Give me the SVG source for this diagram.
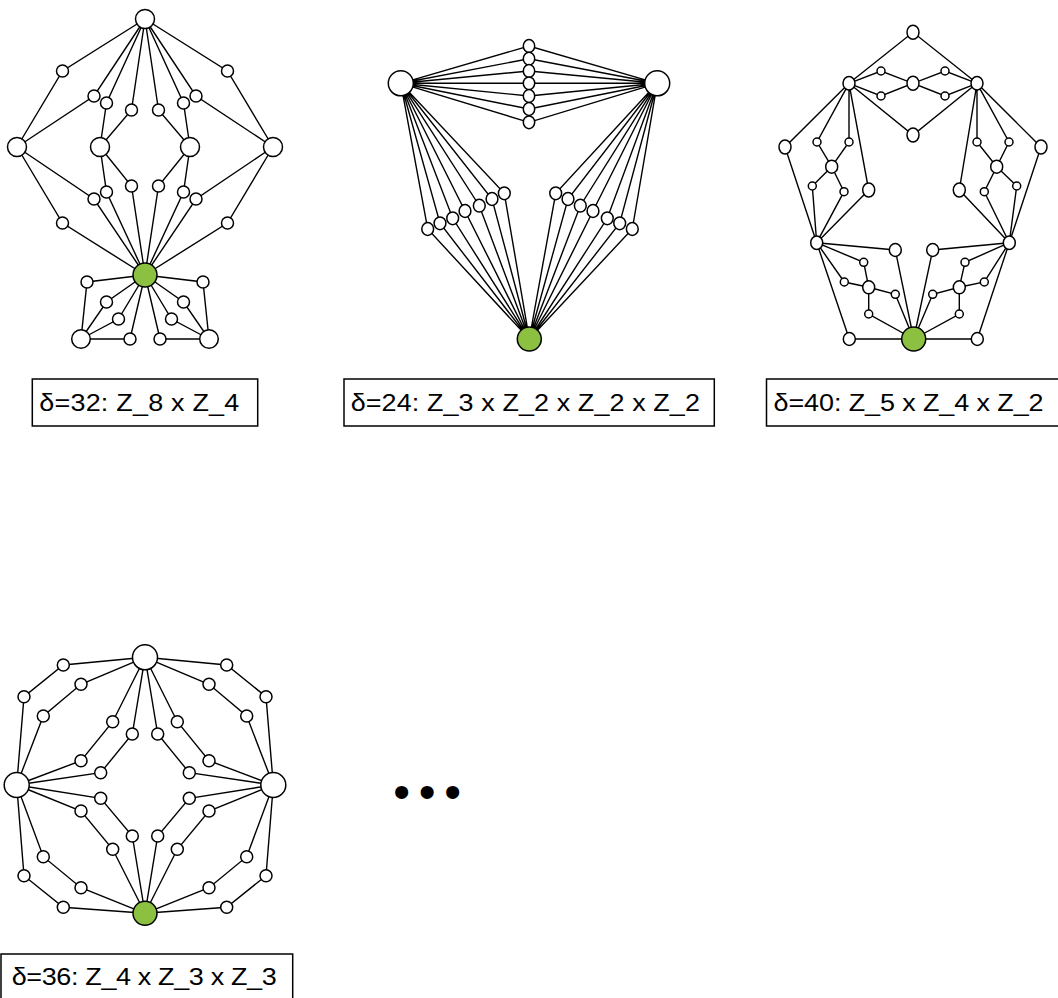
<svg xmlns="http://www.w3.org/2000/svg" width="1058" height="998" viewBox="0 0 1058 998">
<style>
.e{stroke:#000;stroke-width:1.4;fill:none}
.n{fill:#fff;stroke:#000;stroke-width:1.5}
.g{fill:#8cc040;stroke:#000;stroke-width:1.5}
.box{fill:#fff;stroke:#000;stroke-width:1.5}
.lbl{font-family:"Liberation Sans",Arial,sans-serif;font-size:24.5px;fill:#000}
</style>
<rect width="1058" height="998" fill="#fff"/>
<g id="connectors" class="e">
<path d="M145 19L62.5 71L17 147M145 19L94 96L17 147M145 19L106.5 103L100 147M145 19L131.5 110L100 147M145 19L158.5 110L190 147M145 19L183.5 103L190 147M145 19L196 96L273 147M145 19L227.5 71L273 147"/>
<path d="M145 275L62.5 223L17 147M145 275L94 199L17 147M145 275L106.5 192L100 147M145 275L131.5 186L100 147M145 275L158.5 186L190 147M145 275L183.5 192L190 147M145 275L196 199L273 147M145 275L227.5 223L273 147"/>
<path d="M145 275L87 282L81 339M145 275L106.5 302L81 339M145 275L118.5 319L81 339M145 275L130 339L81 339M145 275L160 339L209 339M145 275L171.5 319L209 339M145 275L183.5 302L209 339M145 275L203 282L209 339"/>
<path d="M400.8 83.3L529 46L657.2 83.3M400.8 83.3L529 58.7L657.2 83.3M400.8 83.3L529 71L657.2 83.3M400.8 83.3L529 83.3L657.2 83.3M400.8 83.3L529 96L657.2 83.3M400.8 83.3L529 109L657.2 83.3M400.8 83.3L529 122.3L657.2 83.3"/>
<path d="M400.8 83.3L427.7 229L529.3 339M400.8 83.3L440 223.3L529.3 339M400.8 83.3L452.7 218.3L529.3 339M400.8 83.3L465 211L529.3 339M400.8 83.3L479.3 205.7L529.3 339M400.8 83.3L492 199L529.3 339M400.8 83.3L504.3 193.3L529.3 339"/>
<path d="M657.2 83.3L632.3 229L529.3 339M657.2 83.3L619.7 223.3L529.3 339M657.2 83.3L607.3 218.3L529.3 339M657.2 83.3L593 211L529.3 339M657.2 83.3L580.3 205.7L529.3 339M657.2 83.3L568 199L529.3 339M657.2 83.3L555.7 193.3L529.3 339"/>
<path d="M849 83.3L913 32.3L977 83.3M849 83.3L881 71L913 83.3L945 71L977 83.3M849 83.3L881 96L913 83.3L945 96L977 83.3M849 83.3L913 135L977 83.3"/>
<path d="M849 83.3L785 147L816.7 242.7M849 83.3L817 142L831.7 166.7M849 83.3L849 142L831.7 166.7M831.7 166.7L812.3 186L816.7 242.7M831.7 166.7L844 191.7L816.7 242.7M849 83.3L868.7 190L816.7 242.7"/>
<path d="M977 83.3L1041 147L1009.3 242.7M977 83.3L1009 142L996.7 166.7M977 83.3L977 142L996.7 166.7M996.7 166.7L1016.7 186L1009.3 242.7M996.7 166.7L984.3 191.7L1009.3 242.7M977 83.3L959.3 190L1009.3 242.7"/>
<path d="M816.7 242.7L895.3 250L913.7 339M816.7 242.7L863.7 262.3L868.7 287.3M816.7 242.7L844.3 282L868.7 287.3M868.7 287.3L895.3 294.3L913.7 339M868.7 287.3L868.7 314L913.7 339M816.7 242.7L849.3 339L913.7 339"/>
<path d="M1009.3 242.7L932.7 250L913.7 339M1009.3 242.7L965 262.3L959.3 287.3M1009.3 242.7L984.3 282L959.3 287.3M959.3 287.3L932.7 294.3L913.7 339M959.3 287.3L959.3 314L913.7 339M1009.3 242.7L977.3 339L913.7 339"/>
<path d="M145 657.3L63.3 665L24 696.7L16.7 785M145 657.3L81 684.3L43.3 716L16.7 785M145 657.3L112.7 721.7L81 760.7L16.7 785M145 657.3L132.3 734L100.7 772.7L16.7 785"/>
<path d="M145 657.3L226.7 665L266 696.7L273.3 785M145 657.3L209 684.3L246.7 716L273.3 785M145 657.3L177.3 721.7L209 760.7L273.3 785M145 657.3L157.7 734L189.3 772.7L273.3 785"/>
<path d="M145 913.3L63.3 907.3L24 875.7L16.7 785M145 913.3L81 887.7L43.3 856.7L16.7 785M145 913.3L112.7 849.3L81 811L16.7 785M145 913.3L132.3 836L100.7 798.3L16.7 785"/>
<path d="M145 913.3L226.7 907.3L266 875.7L273.3 785M145 913.3L209 887.7L246.7 856.7L273.3 785M145 913.3L177.3 849.3L209 811L273.3 785M145 913.3L157.7 836L189.3 798.3L273.3 785"/>
</g>
<g id="graph1">
<g id="g1-top"><circle class="n" cx="145" cy="19" r="9.5"/></g>
<g id="g1-l1"><circle class="n" cx="17" cy="147" r="9.5"/></g>
<g id="g1-l2"><circle class="n" cx="100" cy="147" r="9.5"/></g>
<g id="g1-r2"><circle class="n" cx="190" cy="147" r="9.5"/></g>
<g id="g1-r1"><circle class="n" cx="273" cy="147" r="9.5"/></g>
<g id="g1-u1"><circle class="n" cx="62.5" cy="71" r="6"/></g>
<g id="g1-u2"><circle class="n" cx="94" cy="96" r="6"/></g>
<g id="g1-u3"><circle class="n" cx="106.5" cy="103" r="6"/></g>
<g id="g1-u4"><circle class="n" cx="131.5" cy="110" r="6"/></g>
<g id="g1-u5"><circle class="n" cx="158.5" cy="110" r="6"/></g>
<g id="g1-u6"><circle class="n" cx="183.5" cy="103" r="6"/></g>
<g id="g1-u7"><circle class="n" cx="196" cy="96" r="6"/></g>
<g id="g1-u8"><circle class="n" cx="227.5" cy="71" r="6"/></g>
<g id="g1-d1"><circle class="n" cx="62.5" cy="223" r="6"/></g>
<g id="g1-d2"><circle class="n" cx="94" cy="199" r="6"/></g>
<g id="g1-d3"><circle class="n" cx="106.5" cy="192" r="6"/></g>
<g id="g1-d4"><circle class="n" cx="131.5" cy="186" r="6"/></g>
<g id="g1-d5"><circle class="n" cx="158.5" cy="186" r="6"/></g>
<g id="g1-d6"><circle class="n" cx="183.5" cy="192" r="6"/></g>
<g id="g1-d7"><circle class="n" cx="196" cy="199" r="6"/></g>
<g id="g1-d8"><circle class="n" cx="227.5" cy="223" r="6"/></g>
<g id="g1-green"><circle class="g" cx="145" cy="275" r="12"/></g>
<g id="g1-b1"><circle class="n" cx="87" cy="282" r="6"/></g>
<g id="g1-b2"><circle class="n" cx="106.5" cy="302" r="6"/></g>
<g id="g1-b3"><circle class="n" cx="118.5" cy="319" r="6"/></g>
<g id="g1-b4"><circle class="n" cx="130" cy="339" r="6"/></g>
<g id="g1-b5"><circle class="n" cx="160" cy="339" r="6"/></g>
<g id="g1-b6"><circle class="n" cx="171.5" cy="319" r="6"/></g>
<g id="g1-b7"><circle class="n" cx="183.5" cy="302" r="6"/></g>
<g id="g1-b8"><circle class="n" cx="203" cy="282" r="6"/></g>
<g id="g1-bl"><circle class="n" cx="81" cy="339" r="9.3"/></g>
<g id="g1-br"><circle class="n" cx="209" cy="339" r="9.3"/></g>
</g>
<g id="graph2">
<g id="g2-left"><circle class="n" cx="400.8" cy="83.3" r="12.5"/></g>
<g id="g2-right"><circle class="n" cx="657.2" cy="83.3" r="12.5"/></g>
<g id="g2-m1"><ellipse class="n" cx="529" cy="46" rx="5.7" ry="6.4"/></g>
<g id="g2-m2"><ellipse class="n" cx="529" cy="58.7" rx="5.7" ry="6.4"/></g>
<g id="g2-m3"><ellipse class="n" cx="529" cy="71" rx="5.7" ry="6.4"/></g>
<g id="g2-m4"><ellipse class="n" cx="529" cy="83.3" rx="5.7" ry="6.4"/></g>
<g id="g2-m5"><ellipse class="n" cx="529" cy="96" rx="5.7" ry="6.4"/></g>
<g id="g2-m6"><ellipse class="n" cx="529" cy="109" rx="5.7" ry="6.4"/></g>
<g id="g2-m7"><ellipse class="n" cx="529" cy="122.3" rx="5.7" ry="6.4"/></g>
<g id="g2-l1"><ellipse class="n" cx="427.7" cy="229" rx="5.9" ry="6.4"/></g>
<g id="g2-l2"><ellipse class="n" cx="440" cy="223.3" rx="5.9" ry="6.4"/></g>
<g id="g2-l3"><ellipse class="n" cx="452.7" cy="218.3" rx="5.9" ry="6.4"/></g>
<g id="g2-l4"><ellipse class="n" cx="465" cy="211" rx="5.9" ry="6.4"/></g>
<g id="g2-l5"><ellipse class="n" cx="479.3" cy="205.7" rx="5.9" ry="6.4"/></g>
<g id="g2-l6"><ellipse class="n" cx="492" cy="199" rx="5.9" ry="6.4"/></g>
<g id="g2-l7"><ellipse class="n" cx="504.3" cy="193.3" rx="5.9" ry="6.4"/></g>
<g id="g2-r7"><ellipse class="n" cx="555.7" cy="193.3" rx="5.9" ry="6.4"/></g>
<g id="g2-r6"><ellipse class="n" cx="568" cy="199" rx="5.9" ry="6.4"/></g>
<g id="g2-r5"><ellipse class="n" cx="580.3" cy="205.7" rx="5.9" ry="6.4"/></g>
<g id="g2-r4"><ellipse class="n" cx="593" cy="211" rx="5.9" ry="6.4"/></g>
<g id="g2-r3"><ellipse class="n" cx="607.3" cy="218.3" rx="5.9" ry="6.4"/></g>
<g id="g2-r2"><ellipse class="n" cx="619.7" cy="223.3" rx="5.9" ry="6.4"/></g>
<g id="g2-r1"><ellipse class="n" cx="632.3" cy="229" rx="5.9" ry="6.4"/></g>
<g id="g2-green"><circle class="g" cx="529.3" cy="339" r="12"/></g>
</g>
<g id="graph3">
<g id="g3-top"><ellipse class="n" cx="913" cy="32.3" rx="6" ry="7"/></g>
<g id="g3-hl"><ellipse class="n" cx="849" cy="83.3" rx="6" ry="6.7"/></g>
<g id="g3-hr"><ellipse class="n" cx="977" cy="83.3" rx="6" ry="6.7"/></g>
<g id="g3-a1"><circle class="n" cx="881" cy="71" r="4"/></g>
<g id="g3-a2"><circle class="n" cx="881" cy="96" r="4"/></g>
<g id="g3-c"><ellipse class="n" cx="913" cy="83.3" rx="6" ry="7"/></g>
<g id="g3-a3"><circle class="n" cx="945" cy="71" r="4"/></g>
<g id="g3-a4"><circle class="n" cx="945" cy="96" r="4"/></g>
<g id="g3-b"><ellipse class="n" cx="913" cy="135" rx="6" ry="7"/></g>
<g id="g3-p1"><ellipse class="n" cx="785" cy="147" rx="6" ry="7"/></g>
<g id="g3-p2"><circle class="n" cx="817" cy="142" r="4"/></g>
<g id="g3-p3"><circle class="n" cx="849" cy="142" r="4"/></g>
<g id="g3-p4"><ellipse class="n" cx="831.7" cy="166.7" rx="6" ry="6.5"/></g>
<g id="g3-q1"><circle class="n" cx="812.3" cy="186" r="4"/></g>
<g id="g3-q2"><circle class="n" cx="844" cy="191.7" r="4"/></g>
<g id="g3-q3"><ellipse class="n" cx="868.7" cy="190" rx="6" ry="7"/></g>
<g id="g3-p1r"><ellipse class="n" cx="1041" cy="147" rx="6" ry="7"/></g>
<g id="g3-p2r"><circle class="n" cx="1009" cy="142" r="4"/></g>
<g id="g3-p3r"><circle class="n" cx="977" cy="142" r="4"/></g>
<g id="g3-p4r"><ellipse class="n" cx="996.7" cy="166.7" rx="6" ry="6.5"/></g>
<g id="g3-q1r"><circle class="n" cx="1016.7" cy="186" r="4"/></g>
<g id="g3-q2r"><circle class="n" cx="984.3" cy="191.7" r="4"/></g>
<g id="g3-q3r"><ellipse class="n" cx="959.3" cy="190" rx="6" ry="7"/></g>
<g id="g3-ll"><ellipse class="n" cx="816.7" cy="242.7" rx="6" ry="6.7"/></g>
<g id="g3-lr"><ellipse class="n" cx="1009.3" cy="242.7" rx="6" ry="6.7"/></g>
<g id="g3-s1"><ellipse class="n" cx="895.3" cy="250" rx="6" ry="6.5"/></g>
<g id="g3-s1r"><ellipse class="n" cx="932.7" cy="250" rx="6" ry="6.5"/></g>
<g id="g3-s2"><circle class="n" cx="863.7" cy="262.3" r="4"/></g>
<g id="g3-s2r"><circle class="n" cx="965" cy="262.3" r="4"/></g>
<g id="g3-s3"><circle class="n" cx="844.3" cy="282" r="4"/></g>
<g id="g3-s3r"><circle class="n" cx="984.3" cy="282" r="4"/></g>
<g id="g3-s4"><ellipse class="n" cx="868.7" cy="287.3" rx="6" ry="6.5"/></g>
<g id="g3-s4r"><ellipse class="n" cx="959.3" cy="287.3" rx="6" ry="6.5"/></g>
<g id="g3-s5"><circle class="n" cx="895.3" cy="294.3" r="4"/></g>
<g id="g3-s5r"><circle class="n" cx="932.7" cy="294.3" r="4"/></g>
<g id="g3-s6"><circle class="n" cx="868.7" cy="314" r="4"/></g>
<g id="g3-s6r"><circle class="n" cx="959.3" cy="314" r="4"/></g>
<g id="g3-s7"><ellipse class="n" cx="849.3" cy="339" rx="6" ry="6.5"/></g>
<g id="g3-s7r"><ellipse class="n" cx="977.3" cy="339" rx="6" ry="6.5"/></g>
<g id="g3-green"><circle class="g" cx="913.7" cy="339" r="12"/></g>
</g>
<g id="graph4">
<g id="g4-top"><circle class="n" cx="145" cy="657.3" r="12.5"/></g>
<g id="g4-left"><circle class="n" cx="16.7" cy="785" r="12.5"/></g>
<g id="g4-right"><circle class="n" cx="273.3" cy="785" r="12.5"/></g>
<g id="g4-green"><circle class="g" cx="145" cy="913.3" r="12"/></g>
<g id="g4-n1"><circle class="n" cx="63.3" cy="665" r="6"/></g>
<g id="g4-n2"><circle class="n" cx="24" cy="696.7" r="6"/></g>
<g id="g4-n3"><circle class="n" cx="81" cy="684.3" r="6"/></g>
<g id="g4-n4"><circle class="n" cx="43.3" cy="716" r="6"/></g>
<g id="g4-n5"><circle class="n" cx="112.7" cy="721.7" r="6"/></g>
<g id="g4-n6"><circle class="n" cx="81" cy="760.7" r="6"/></g>
<g id="g4-n7"><circle class="n" cx="132.3" cy="734" r="6"/></g>
<g id="g4-n8"><circle class="n" cx="100.7" cy="772.7" r="6"/></g>
<g id="g4-n9"><circle class="n" cx="226.7" cy="665" r="6"/></g>
<g id="g4-n10"><circle class="n" cx="266" cy="696.7" r="6"/></g>
<g id="g4-n11"><circle class="n" cx="209" cy="684.3" r="6"/></g>
<g id="g4-n12"><circle class="n" cx="246.7" cy="716" r="6"/></g>
<g id="g4-n13"><circle class="n" cx="177.3" cy="721.7" r="6"/></g>
<g id="g4-n14"><circle class="n" cx="209" cy="760.7" r="6"/></g>
<g id="g4-n15"><circle class="n" cx="157.7" cy="734" r="6"/></g>
<g id="g4-n16"><circle class="n" cx="189.3" cy="772.7" r="6"/></g>
<g id="g4-n17"><circle class="n" cx="63.3" cy="907.3" r="6"/></g>
<g id="g4-n18"><circle class="n" cx="24" cy="875.7" r="6"/></g>
<g id="g4-n19"><circle class="n" cx="81" cy="887.7" r="6"/></g>
<g id="g4-n20"><circle class="n" cx="43.3" cy="856.7" r="6"/></g>
<g id="g4-n21"><circle class="n" cx="112.7" cy="849.3" r="6"/></g>
<g id="g4-n22"><circle class="n" cx="81" cy="811" r="6"/></g>
<g id="g4-n23"><circle class="n" cx="132.3" cy="836" r="6"/></g>
<g id="g4-n24"><circle class="n" cx="100.7" cy="798.3" r="6"/></g>
<g id="g4-n25"><circle class="n" cx="226.7" cy="907.3" r="6"/></g>
<g id="g4-n26"><circle class="n" cx="266" cy="875.7" r="6"/></g>
<g id="g4-n27"><circle class="n" cx="209" cy="887.7" r="6"/></g>
<g id="g4-n28"><circle class="n" cx="246.7" cy="856.7" r="6"/></g>
<g id="g4-n29"><circle class="n" cx="177.3" cy="849.3" r="6"/></g>
<g id="g4-n30"><circle class="n" cx="209" cy="811" r="6"/></g>
<g id="g4-n31"><circle class="n" cx="157.7" cy="836" r="6"/></g>
<g id="g4-n32"><circle class="n" cx="189.3" cy="798.3" r="6"/></g>
</g>
<g id="labels">
<g id="label1"><rect class="box" x="32.3" y="379" width="225.4" height="47"/><text class="lbl" transform="scale(1.1 1)" x="35.73" y="410.7" textLength="181.8" lengthAdjust="spacing">δ=32: Z_8 x Z_4</text></g>
<g id="label2"><rect class="box" x="344" y="379" width="370.3" height="47"/><text class="lbl" transform="scale(1.1 1)" x="318.8" y="410.7" textLength="317.5" lengthAdjust="spacing">δ=24: Z_3 x Z_2 x Z_2 x Z_2</text></g>
<g id="label3"><rect class="box" x="766.5" y="379" width="300" height="47"/><text class="lbl" transform="scale(1.1 1)" x="703.2" y="410.7" textLength="245.5" lengthAdjust="spacing">δ=40: Z_5 x Z_4 x Z_2</text></g>
<g id="label4"><rect class="box" x="1" y="954" width="291.7" height="47"/><text class="lbl" transform="scale(1.1 1)" x="10.6" y="985" textLength="240.9" lengthAdjust="spacing">δ=36: Z_4 x Z_3 x Z_3</text></g>
</g>
<g id="ellipsis"><text x="393.3" y="808" style="font-family:'Liberation Sans',Arial,sans-serif;font-size:48px;letter-spacing:8.7px" fill="#000">•••</text></g>
</svg>
